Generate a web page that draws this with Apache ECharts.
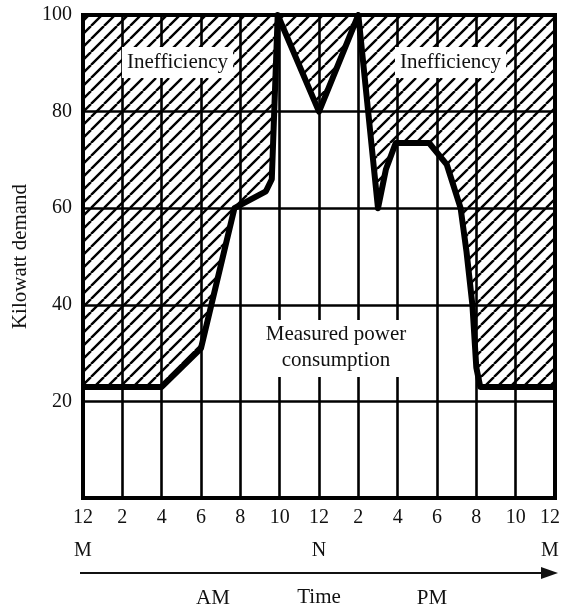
<!DOCTYPE html>
<html>
<head>
<meta charset="utf-8">
<script src="https://cdn.jsdelivr.net/npm/echarts@6/dist/echarts.min.js"></script>
<style>
html,body{margin:0;padding:0;background:#fff;}
#chart{width:561px;height:607px;}
</style>
</head>
<body>
<div id="chart"></div>
<script>
// ---- data ----
const hours = [0, 4, 6, 7.7, 9.3, 9.6, 9.9, 12, 14, 15, 15.4, 15.9, 17.6, 18.5, 19.2, 19.5, 19.8, 20.0, 20.2, 24];
const kw    = [23, 23, 31, 60, 63.5, 66, 100, 80, 100, 60, 68, 73.5, 73.5, 69, 60, 51, 40, 27, 23, 23];
const xTickTop = ['12','2','4','6','8','10','12','2','4','6','8','10','12'];
const xTickBottom = ['M','','','','','','N','','','','','','M'];
const yTickLabels = ['', '20', '40', '60', '80', '100'];
const upperLabel = 'Inefficiency';
const lowerLabel = 'Measured power\nconsumption';

const points = hours.map((h, i) => [h, kw[i]]);

// hatch pattern
const tile = document.createElement('canvas');
const S = 13;
tile.width = S; tile.height = S;
const ctx = tile.getContext('2d');
ctx.strokeStyle = '#000';
ctx.lineWidth = 2.4;
ctx.beginPath();
for (const k of [-1, 0, 1]) {
  ctx.moveTo(k * S, S);
  ctx.lineTo(k * S + S, 0);
}
ctx.stroke();

const FONT = 'Liberation Serif';
const lastIdx = xTickTop.length - 1;
const chart = echarts.init(document.getElementById('chart'), null, {renderer: 'canvas'});
chart.setOption({
  backgroundColor: '#fff',
  animation: false,
  textStyle: {fontFamily: FONT, color: '#111'},
  grid: {left: 83, right: 6, top: 15, bottom: 109, outerBoundsMode: 'none', containLabel: false,
    show: true, borderColor: '#000', borderWidth: 4, backgroundColor: 'transparent'},
  xAxis: {
    type: 'value', min: 0, max: 24, interval: 2,
    axisLine: {show: false}, axisTick: {show: false},
    splitLine: {show: true, lineStyle: {color: '#000', width: 2.6}},
    axisLabel: {
      margin: 3, fontFamily: FONT, fontSize: 20, color: '#111', lineHeight: 33,
      formatter: (v) => {
        const i = Math.round(v / 2);
        const t = i === lastIdx ? (s) => '{e|' + s + '}' : (s) => s;
        return xTickBottom[i] ? t(xTickTop[i]) + '\n' + t(xTickBottom[i]) : t(xTickTop[i]);
      },
      rich: {e: {fontFamily: FONT, fontSize: 20, color: '#111', lineHeight: 33, padding: [0, 10, 0, 0]}}
    },
    name: 'Time', nameLocation: 'middle', nameGap: 89,
    nameTextStyle: {fontFamily: FONT, fontSize: 21, color: '#111'}
  },
  yAxis: {
    type: 'value', min: 0, max: 100, interval: 20,
    axisLine: {show: false}, axisTick: {show: false},
    splitLine: {show: true, lineStyle: {color: '#000', width: 2.6}},
    axisLabel: {
      margin: 11, fontFamily: FONT, fontSize: 20, color: '#111',
      formatter: (v) => yTickLabels[Math.round(v / 20)]
    },
    name: 'Kilowatt demand', nameLocation: 'middle', nameGap: 48,
    nameTextStyle: {fontFamily: FONT, fontSize: 21, color: '#111'}
  },
  series: [
    {
      type: 'line', data: points, symbol: 'none', z: 2,
      lineStyle: {width: 0, opacity: 0},
      areaStyle: {origin: 'end', opacity: 1, color: {image: tile, repeat: 'repeat'}}
    },
    {
      type: 'line', data: points, symbol: 'none', z: 3,
      lineStyle: {color: '#000', width: 6, join: 'round'}
    }
  ],
  graphic: [
    {type: 'text', left: 179 - 57, top: 47, z: 10,
      style: {text: upperLabel, fontFamily: FONT, fontSize: 21, fill: '#111', backgroundColor: '#fff', padding: [5, 5, 5, 5]}},
    {type: 'text', left: 452 - 57, top: 47, z: 10,
      style: {text: upperLabel, fontFamily: FONT, fontSize: 21, fill: '#111', backgroundColor: '#fff', padding: [5, 5, 5, 5]}},
    {type: 'text', x: 336, y: 320, z: 10,
      style: {text: lowerLabel, fontFamily: FONT, fontSize: 21, lineHeight: 26, align: 'center', verticalAlign: 'top', fill: '#111', backgroundColor: '#fff', padding: [1, 8, 4, 8]}},
    {type: 'line', z: 10, shape: {x1: 80, y1: 573, x2: 546, y2: 573}, style: {stroke: '#111', lineWidth: 2}},
    {type: 'polygon', z: 10, shape: {points: [[558, 573], [541, 567], [541, 579]]}, style: {fill: '#111'}},
    {type: 'text', x: 213, y: 598, z: 10, style: {text: 'AM', fontFamily: FONT, fontSize: 21, fill: '#111', align: 'center', verticalAlign: 'middle'}},
    {type: 'text', x: 432, y: 598, z: 10, style: {text: 'PM', fontFamily: FONT, fontSize: 21, fill: '#111', align: 'center', verticalAlign: 'middle'}}
  ]
});
</script>
</body>
</html>
